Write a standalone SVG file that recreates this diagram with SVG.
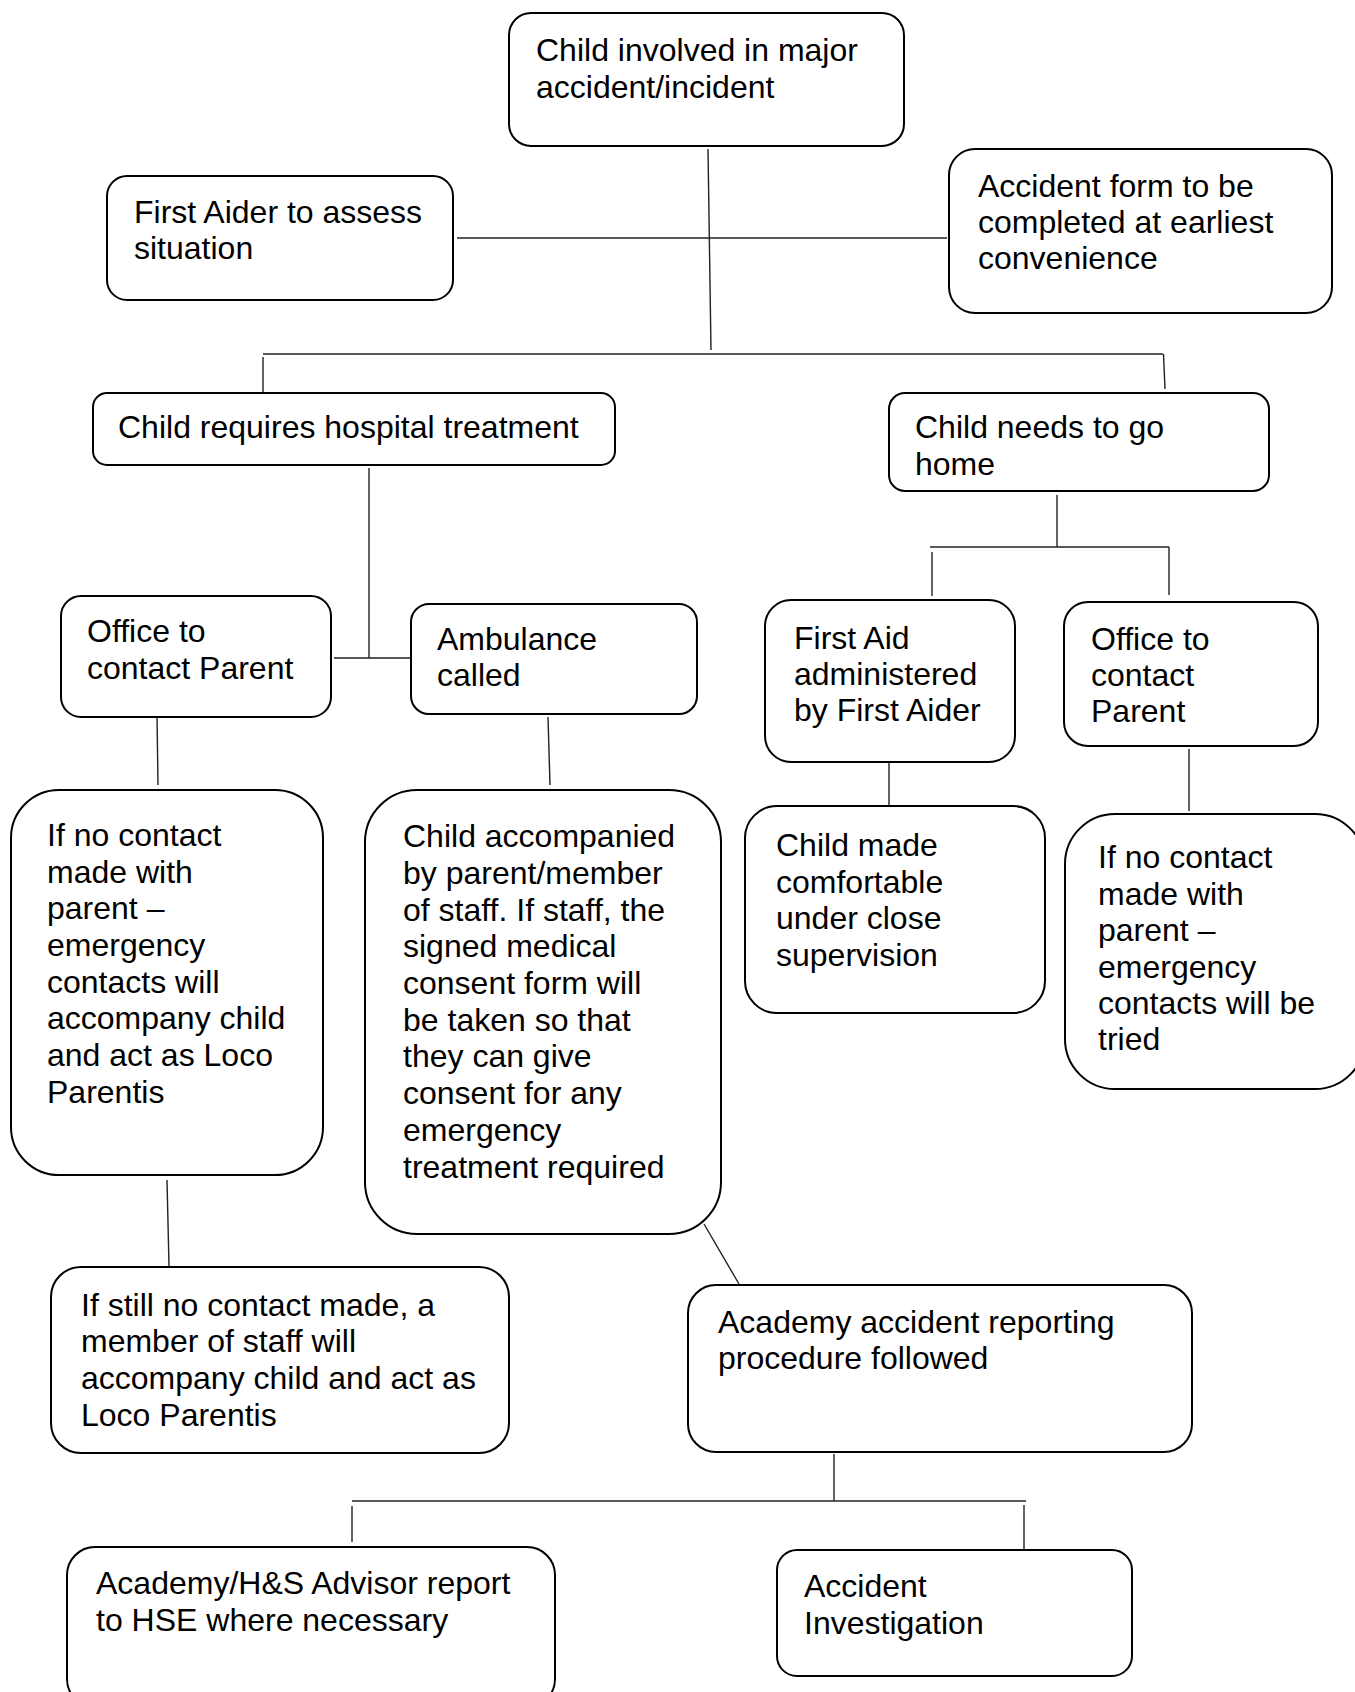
<svg xmlns="http://www.w3.org/2000/svg" width="1355" height="1692" viewBox="0 0 1355 1692">
<style>
.box{fill:#fff;stroke:#000;stroke-width:2}
.t{font-family:"Liberation Sans",Arial,sans-serif;font-size:32px;fill:#000}
.c line{stroke:#222;stroke-width:1.4}
</style>
<rect width="1355" height="1692" fill="#fff"/>
<g class="c" id="connectors">
<line x1="708" y1="149" x2="711" y2="350"/>
<line x1="457" y1="238" x2="947" y2="238"/>
<line x1="263" y1="354" x2="1163" y2="354"/>
<line x1="263" y1="357" x2="263" y2="393"/>
<line x1="1163.5" y1="354" x2="1165" y2="389"/>
<line x1="369" y1="468" x2="369" y2="658"/>
<line x1="334" y1="658" x2="411" y2="658"/>
<line x1="157" y1="714" x2="158" y2="785"/>
<line x1="548" y1="717" x2="550" y2="785"/>
<line x1="1057" y1="495" x2="1057" y2="547"/>
<line x1="930" y1="547" x2="1169" y2="547"/>
<line x1="932" y1="552" x2="932" y2="596"/>
<line x1="1169" y1="547" x2="1169" y2="595"/>
<line x1="889" y1="763" x2="889" y2="805"/>
<line x1="1189" y1="749" x2="1189" y2="811"/>
<line x1="167" y1="1180" x2="169" y2="1266"/>
<line x1="704" y1="1224" x2="739" y2="1284"/>
<line x1="834" y1="1454" x2="834" y2="1501"/>
<line x1="352" y1="1501" x2="1026" y2="1501"/>
<line x1="352" y1="1506" x2="352" y2="1542"/>
<line x1="1024" y1="1505" x2="1024" y2="1550"/>
</g>
<g id="n1"><rect class="box" x="509" y="13" width="395" height="133" rx="22"/>
<text class="t"><tspan x="536" y="61">Child involved in major</tspan><tspan x="536" y="98">accident/incident</tspan></text></g>
<g id="n2"><rect class="box" x="107" y="176" width="346" height="124" rx="20"/>
<text class="t"><tspan x="134" y="223">First Aider to assess</tspan><tspan x="134" y="259">situation</tspan></text></g>
<g id="n3"><rect class="box" x="949" y="149" width="383" height="164" rx="26"/>
<text class="t"><tspan x="978" y="197">Accident form to be</tspan><tspan x="978" y="233">completed at earliest</tspan><tspan x="978" y="269">convenience</tspan></text></g>
<g id="n4"><rect class="box" x="93" y="393" width="522" height="72" rx="14"/>
<text class="t"><tspan x="118" y="438">Child requires hospital treatment</tspan></text></g>
<g id="n5"><rect class="box" x="889" y="393" width="380" height="98" rx="16"/>
<text class="t"><tspan x="915" y="438">Child needs to go</tspan><tspan x="915" y="475">home</tspan></text></g>
<g id="n6"><rect class="box" x="61" y="596" width="270" height="121" rx="20"/>
<text class="t"><tspan x="87" y="642">Office to</tspan><tspan x="87" y="679">contact Parent</tspan></text></g>
<g id="n7"><rect class="box" x="411" y="604" width="286" height="110" rx="18"/>
<text class="t"><tspan x="437" y="650">Ambulance</tspan><tspan x="437" y="686">called</tspan></text></g>
<g id="n8"><rect class="box" x="765" y="600" width="250" height="162" rx="26"/>
<text class="t"><tspan x="794" y="649">First Aid</tspan><tspan x="794" y="685">administered</tspan><tspan x="794" y="721">by First Aider</tspan></text></g>
<g id="n9"><rect class="box" x="1064" y="602" width="254" height="144" rx="24"/>
<text class="t"><tspan x="1091" y="650">Office to</tspan><tspan x="1091" y="686">contact</tspan><tspan x="1091" y="722">Parent</tspan></text></g>
<g id="n10"><rect class="box" x="11" y="790" width="312" height="385" rx="48"/>
<text class="t"><tspan x="47" y="846">If no contact</tspan><tspan x="47" y="883">made with</tspan><tspan x="47" y="919">parent –</tspan><tspan x="47" y="956">emergency</tspan><tspan x="47" y="993">contacts will</tspan><tspan x="47" y="1029">accompany child</tspan><tspan x="47" y="1066">and act as Loco</tspan><tspan x="47" y="1103">Parentis</tspan></text></g>
<g id="n11"><rect class="box" x="365" y="790" width="356" height="444" rx="52"/>
<text class="t"><tspan x="403" y="847">Child accompanied</tspan><tspan x="403" y="884">by parent/member</tspan><tspan x="403" y="921">of staff. If staff, the</tspan><tspan x="403" y="957">signed medical</tspan><tspan x="403" y="994">consent form will</tspan><tspan x="403" y="1031">be taken so that</tspan><tspan x="403" y="1067">they can give</tspan><tspan x="403" y="1104">consent for any</tspan><tspan x="403" y="1141">emergency</tspan><tspan x="403" y="1178">treatment required</tspan></text></g>
<g id="n12"><rect class="box" x="745" y="806" width="300" height="207" rx="32"/>
<text class="t"><tspan x="776" y="856">Child made</tspan><tspan x="776" y="893">comfortable</tspan><tspan x="776" y="929">under close</tspan><tspan x="776" y="966">supervision</tspan></text></g>
<g id="n13"><rect class="box" x="1065" y="814" width="300" height="275" rx="50"/>
<text class="t"><tspan x="1098" y="868">If no contact</tspan><tspan x="1098" y="905">made with</tspan><tspan x="1098" y="941">parent –</tspan><tspan x="1098" y="978">emergency</tspan><tspan x="1098" y="1014">contacts will be</tspan><tspan x="1098" y="1050">tried</tspan></text></g>
<g id="n14"><rect class="box" x="51" y="1267" width="458" height="186" rx="30"/>
<text class="t"><tspan x="81" y="1316">If still no contact made, a</tspan><tspan x="81" y="1352">member of staff will</tspan><tspan x="81" y="1389">accompany child and act as</tspan><tspan x="81" y="1426">Loco Parentis</tspan></text></g>
<g id="n15"><rect class="box" x="688" y="1285" width="504" height="167" rx="28"/>
<text class="t"><tspan x="718" y="1333">Academy accident reporting</tspan><tspan x="718" y="1369">procedure followed</tspan></text></g>
<g id="n16"><rect class="box" x="67" y="1547" width="488" height="160" rx="28"/>
<text class="t"><tspan x="96" y="1594">Academy/H&amp;S Advisor report</tspan><tspan x="96" y="1631">to HSE where necessary</tspan></text></g>
<g id="n17"><rect class="box" x="777" y="1550" width="355" height="126" rx="20"/>
<text class="t"><tspan x="804" y="1597">Accident</tspan><tspan x="804" y="1634">Investigation</tspan></text></g>
</svg>
